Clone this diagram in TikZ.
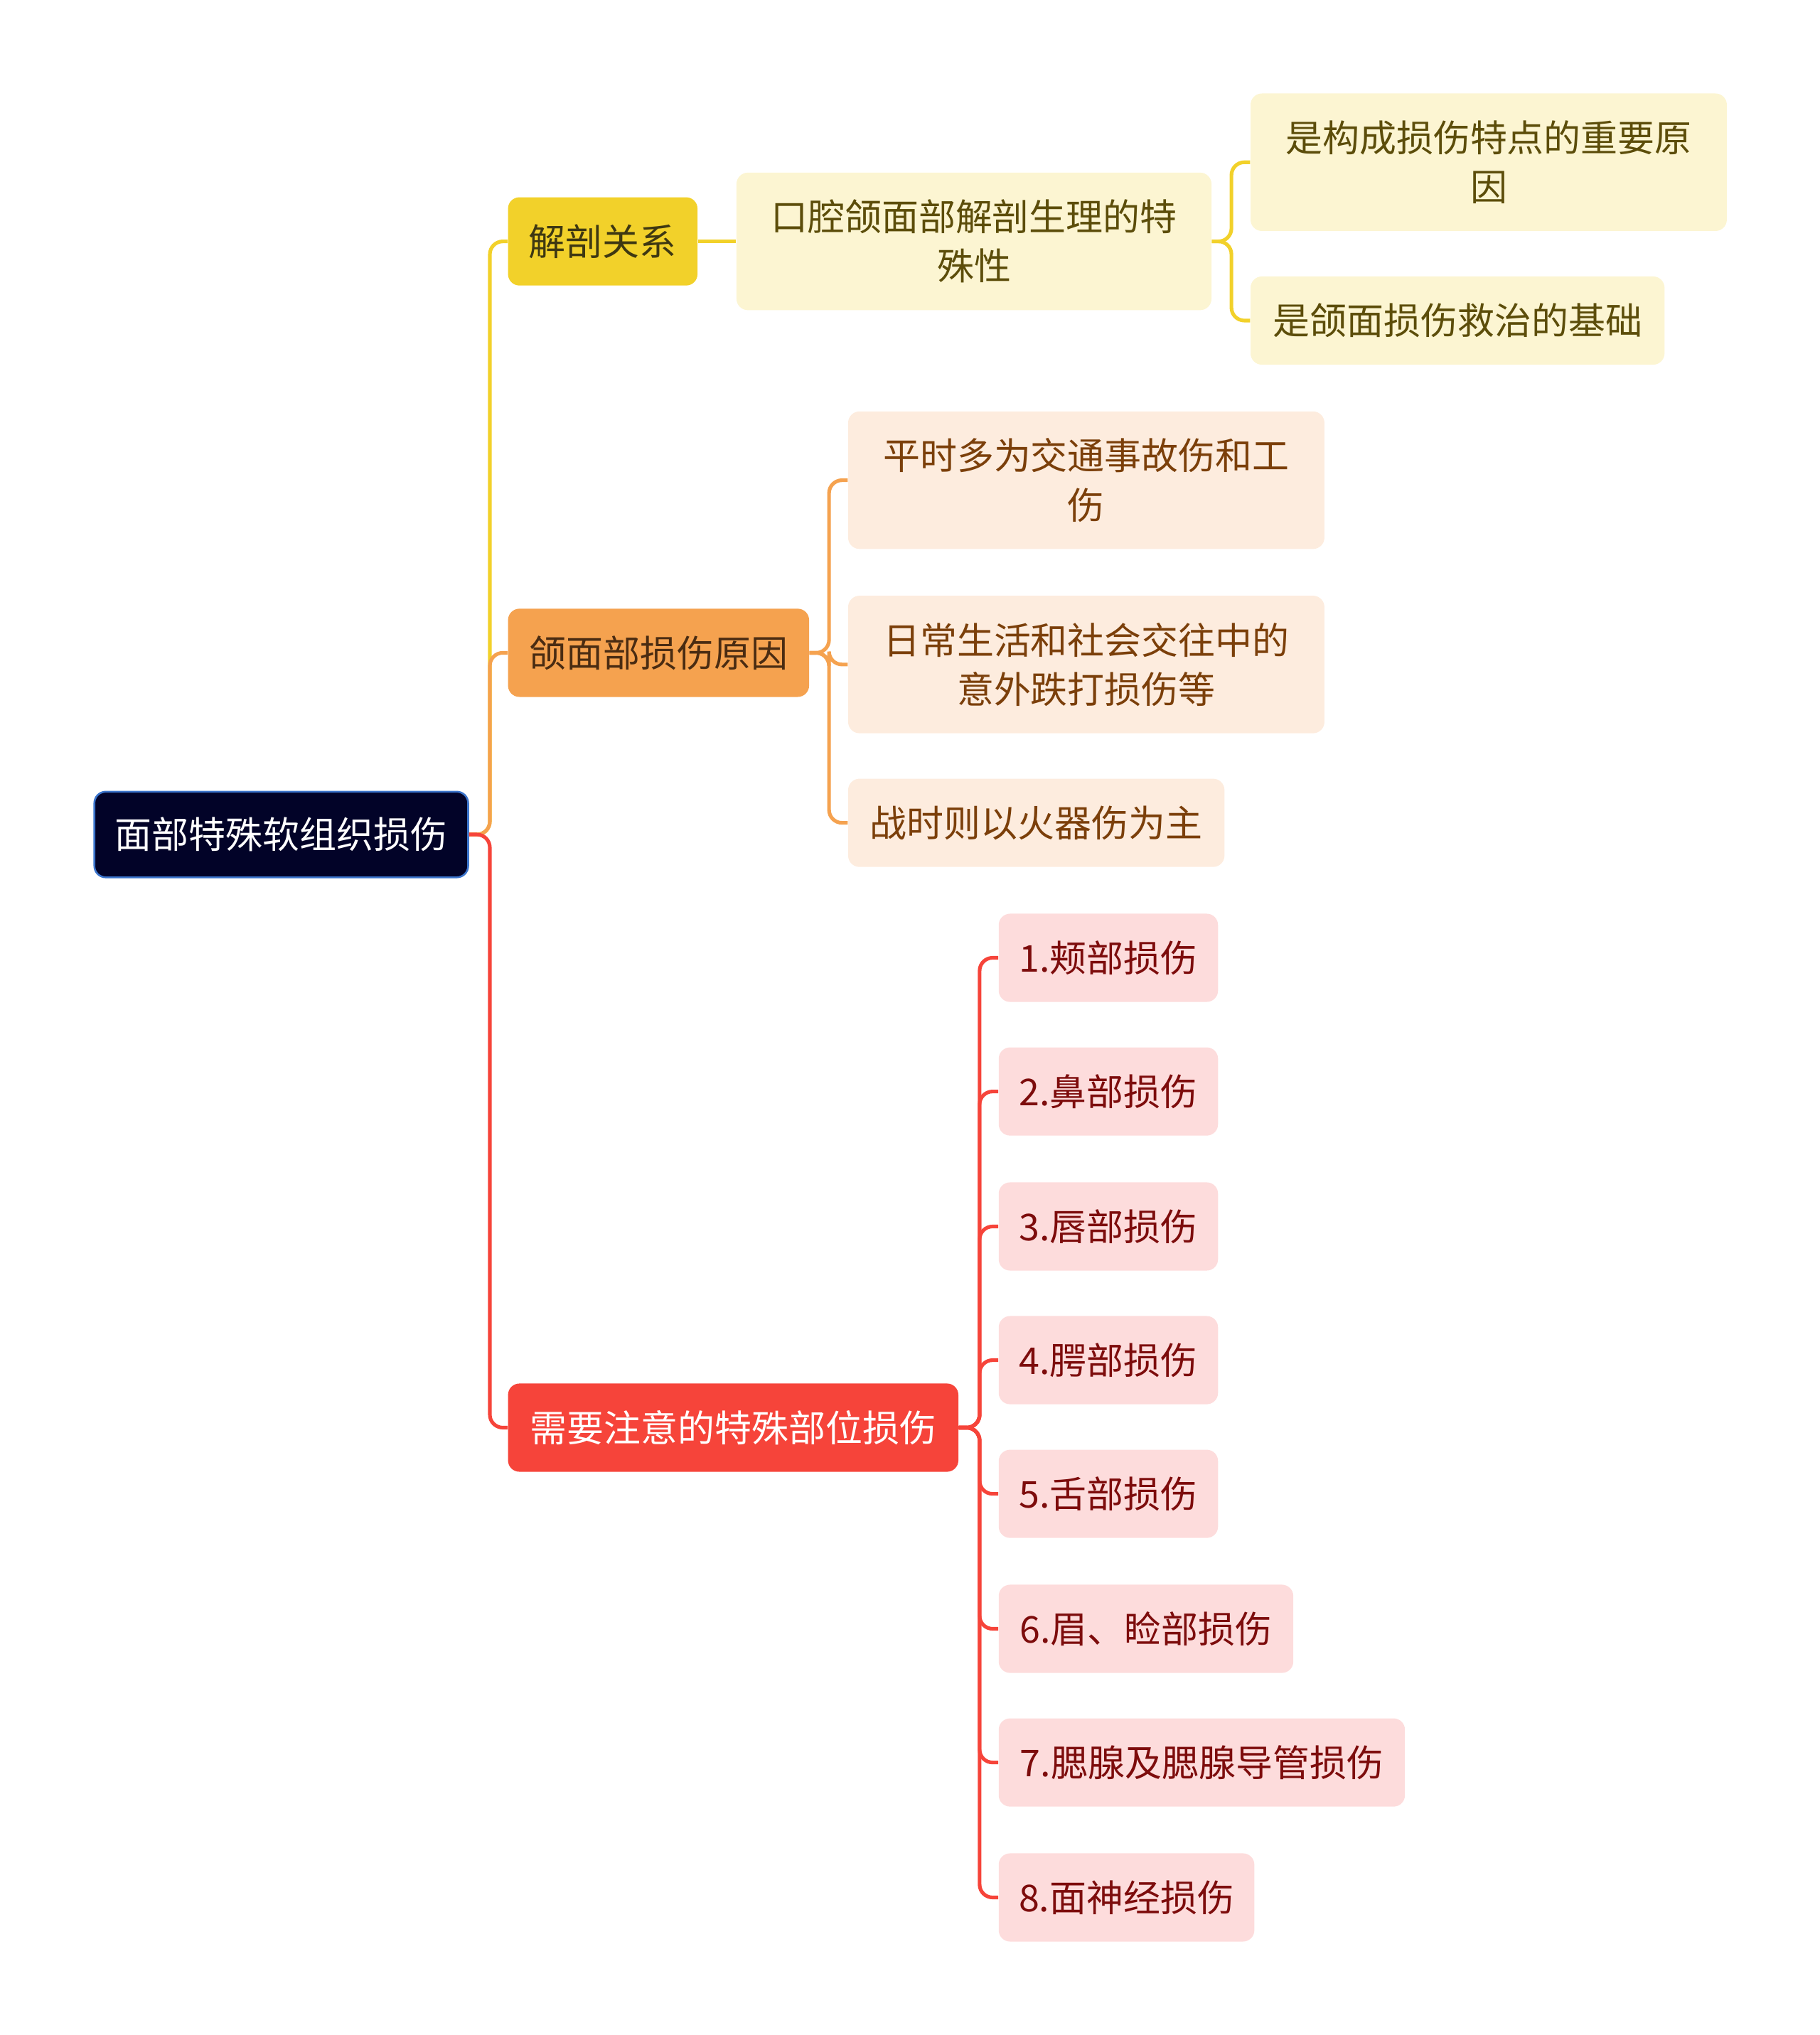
\documentclass[tikz,border=0pt]{standalone}
\usepackage{fontspec}
\setmainfont{Noto Sans CJK SC}
\usepackage{tikz}
\usetikzlibrary{positioning}
\definecolor{RootNavy}{RGB}{2,3,40}
\definecolor{RootEdge}{RGB}{59,116,204}
\definecolor{YellowMain}{RGB}{242,209,42}
\definecolor{YellowSoft}{RGB}{252,245,210}
\definecolor{YellowInk}{RGB}{92,77,10}
\definecolor{YellowDeep}{RGB}{62,56,18}
\definecolor{OrangeMain}{RGB}{245,162,79}
\definecolor{OrangeSoft}{RGB}{253,236,222}
\definecolor{OrangeInk}{RGB}{123,63,10}
\definecolor{OrangeDeep}{RGB}{74,44,18}
\definecolor{RedMain}{RGB}{246,68,58}
\definecolor{RedSoft}{RGB}{253,220,220}
\definecolor{RedInk}{RGB}{125,12,12}

\tikzset{
  topic/.style={rounded corners=5pt, inner sep=0pt, anchor=west,
    minimum height=1.36cm, align=center,
    font=\fontsize{16.2}{21.6}\selectfont},
  tallbox/.style={topic, minimum height=2.12cm},
  link/.style={line width=1.6pt, rounded corners=0.2cm},
}

\begin{document}
\begin{tikzpicture}[x=0.02cm,y=-0.02cm]
    \useasboundingbox (0,0) rectangle (1402,1568);
    % root
    \node[topic, fill=RootNavy, draw=RootEdge, line width=0.8pt, text=white,
      minimum width=5.76cm, minimum height=1.32cm] (root) at (72,643) {面部特殊软组织损伤};
    % first branch
    \node[topic, fill=YellowMain, text=YellowDeep, minimum width=2.92cm] (jp) at (391,186) {解剖关系};
    \node[tallbox, fill=YellowSoft, text=YellowInk, minimum width=7.32cm] (kq) at (567,186) {口腔颌面部解剖生理的特\\殊性};
    \node[tallbox, fill=YellowSoft, text=YellowInk, minimum width=7.34cm] (zd) at (963,125) {是构成损伤特点的重要原\\因};
    \node[topic, fill=YellowSoft, text=YellowInk, minimum width=6.38cm] (jc) at (963,247) {是颌面损伤救治的基础};
    % second branch
    \node[topic, fill=OrangeMain, text=OrangeDeep, minimum width=4.64cm] (yy) at (391,503) {颌面部损伤原因};
    \node[tallbox, fill=OrangeSoft, text=OrangeInk, minimum width=7.34cm] (ps) at (653,370) {平时多为交通事故伤和工\\伤};
    \node[tallbox, fill=OrangeSoft, text=OrangeInk, minimum width=7.34cm] (rc) at (653,512) {日常生活和社会交往中的\\意外跌打损伤等};
    \node[topic, fill=OrangeSoft, text=OrangeInk, minimum width=5.8cm] (zs) at (653,634) {战时则以火器伤为主};
    % third branch
    \node[topic, fill=RedMain, text=white, minimum width=6.94cm] (tb) at (391,1100) {需要注意的特殊部位损伤};
    \node[topic, fill=RedSoft, text=RedInk, minimum width=3.38cm] (b1) at (769,738) {1.颊部损伤};
    \node[topic, fill=RedSoft, text=RedInk, minimum width=3.38cm] (b2) at (769,841) {2.鼻部损伤};
    \node[topic, fill=RedSoft, text=RedInk, minimum width=3.38cm] (b3) at (769,945) {3.唇部损伤};
    \node[topic, fill=RedSoft, text=RedInk, minimum width=3.38cm] (b4) at (769,1048) {4.腭部损伤};
    \node[topic, fill=RedSoft, text=RedInk, minimum width=3.38cm] (b5) at (769,1151) {5.舌部损伤};
    \node[topic, fill=RedSoft, text=RedInk, minimum width=4.54cm] (b6) at (769,1255) {6.眉、睑部损伤};
    \node[topic, fill=RedSoft, text=RedInk, minimum width=6.26cm] (b7) at (769,1358) {7.腮腺及腮腺导管损伤};
    \node[topic, fill=RedSoft, text=RedInk, minimum width=3.94cm] (b8) at (769,1462) {8.面神经损伤};
    % connectors
    \draw[link, YellowMain] (root.east) -- ++(16,0) |- (jp.west);
    \draw[link, OrangeMain] (root.east) -- ++(16,0) |- (yy.west);
    \draw[link, RedMain] (root.east) -- ++(16,0) |- (tb.west);
    \draw[link, YellowMain] (jp.east) -- (kq.west);
    \draw[link, YellowMain] (kq.east) -- ++(15,0) |- (zd.west);
    \draw[link, YellowMain] (kq.east) -- ++(15,0) |- (jc.west);
    \draw[link, OrangeMain] (yy.east) -- ++(15,0) |- (ps.west);
    \draw[link, OrangeMain] (yy.east) -- ++(15,0) |- (rc.west);
    \draw[link, OrangeMain] (yy.east) -- ++(15,0) |- (zs.west);
    \draw[link, RedMain] (tb.east) -- ++(16,0) |- (b1.west);
    \draw[link, RedMain] (tb.east) -- ++(16,0) |- (b2.west);
    \draw[link, RedMain] (tb.east) -- ++(16,0) |- (b3.west);
    \draw[link, RedMain] (tb.east) -- ++(16,0) |- (b4.west);
    \draw[link, RedMain] (tb.east) -- ++(16,0) |- (b5.west);
    \draw[link, RedMain] (tb.east) -- ++(16,0) |- (b6.west);
    \draw[link, RedMain] (tb.east) -- ++(16,0) |- (b7.west);
    \draw[link, RedMain] (tb.east) -- ++(16,0) |- (b8.west);
\end{tikzpicture}
\end{document}
